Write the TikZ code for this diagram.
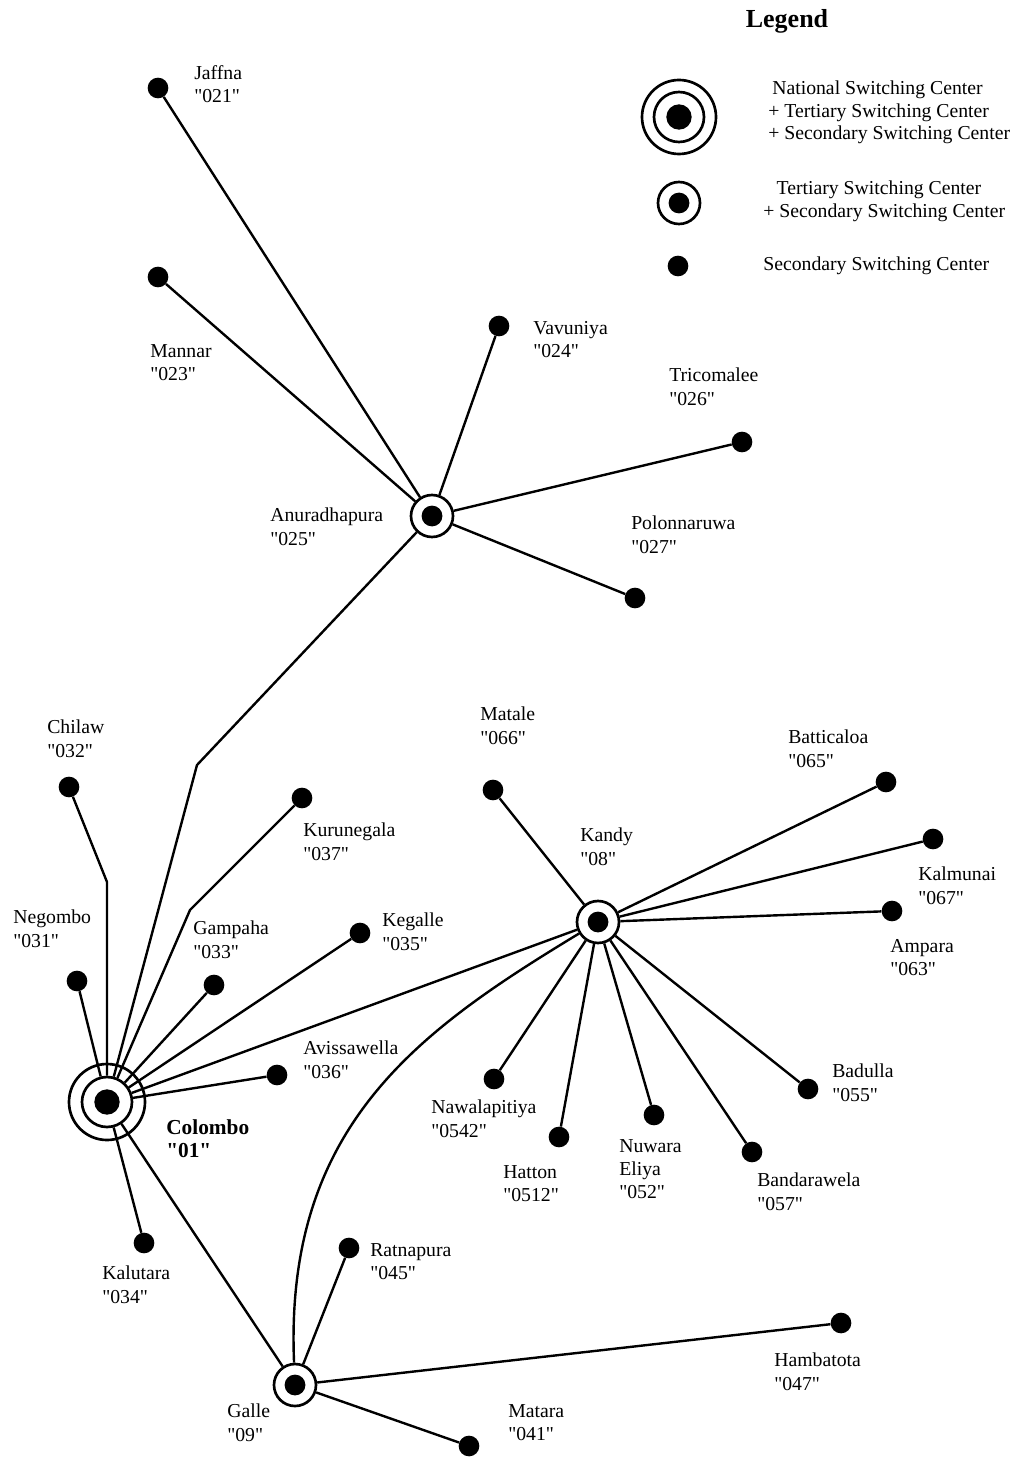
\documentclass[tikz,border=0pt]{standalone}
\usepackage{fontspec}
\setmainfont{Liberation Serif}[Ligatures=TeXOff]
\begin{document}
\begin{tikzpicture}[x=0.75pt, y=-0.75pt,
  link/.style={line width=1.8pt},
  sec/.style={circle, fill=black, minimum size=15.5pt, inner sep=0pt},
  ter/.style={circle, draw, line width=2pt, fill=white, minimum size=31.5pt, inner sep=0pt,
    path picture={\fill[black] (path picture bounding box.center) circle (7.8pt);}},
  nat/.style={circle, draw, line width=2pt, fill=white, minimum size=37.5pt, inner sep=0pt,
    path picture={\fill[black] (path picture bounding box.center) circle (9.5pt);}},
  ring/.style={line width=2pt},
  lbl/.style={anchor=north west, inner sep=0pt, align=left,
    font=\fontsize{14.8}{17.5}\selectfont},
  leg/.style={anchor=north west, inner sep=0pt, align=left,
    font=\fontsize{14.8}{16.8}\selectfont},
]
\useasboundingbox[fill=white] (0,0) rectangle (1017,1458);

% ---------- legend ----------
\node[font=\fontsize{19.5}{22}\selectfont\bfseries] (legtitle) at (787,21) {Legend};
\node[nat] (legnat) at (679,117) {};
\draw[ring] (legnat.center) circle (27.75pt);
\node[ter] (legter) at (679,203) {};
\node[sec] (legsec) at (678,266) {};
\node[leg] (legnattxt) at (768,81) {\hspace*{3pt}National Switching Center\\+ Tertiary Switching Center\\+ Secondary Switching Center};
\node[leg] (legtertxt) at (763,181) {\hspace*{10pt}Tertiary Switching Center\\+ Secondary Switching Center};
\node[leg] (legsectxt) at (763,257) {Secondary Switching Center};

% ---------- switching centers ----------
\node[nat] (colombo) at (107,1102) {};
\draw[ring] (colombo.center) circle (28.5pt);
\node[ter] (anuradhapura) at (432,516) {};
\node[ter] (kandy) at (598,922) {};
\node[ter] (galle) at (295,1385) {};

\node[sec] (jaffna) at (158,88) {};
\node[sec] (mannar) at (158,277) {};
\node[sec] (vavuniya) at (499,326) {};
\node[sec] (tricomalee) at (742,442) {};
\node[sec] (polonnaruwa) at (635,598) {};

\node[sec] (chilaw) at (69,787) {};
\node[sec] (negombo) at (77,981) {};
\node[sec] (kurunegala) at (302,798) {};
\node[sec] (gampaha) at (214,985) {};
\node[sec] (kegalle) at (360,933) {};
\node[sec] (avissawella) at (277,1075) {};
\node[sec] (kalutara) at (144,1243) {};

\node[sec] (matale) at (493,790) {};
\node[sec] (batticaloa) at (886,782) {};
\node[sec] (kalmunai) at (933,839) {};
\node[sec] (ampara) at (892,911) {};
\node[sec] (badulla) at (808,1089) {};
\node[sec] (bandarawela) at (752,1152) {};
\node[sec] (nuwaraeliya) at (654,1115) {};
\node[sec] (hatton) at (559,1137) {};
\node[sec] (nawalapitiya) at (494,1079) {};

\node[sec] (ratnapura) at (349,1248) {};
\node[sec] (hambatota) at (841,1323) {};
\node[sec] (matara) at (469,1446) {};

% ---------- names and codes ----------
\node[lbl] (tjaffna) at (194,65) {Jaffna\\"021"};
\node[lbl] (tmannar) at (150,344) {Mannar\\"023"};
\node[lbl] (tvavuniya) at (533,321) {Vavuniya\\"024"};
\node[lbl] (ttricomalee) at (669,368) {Tricomalee\\"026"};
\node[lbl] (tanuradhapura) at (270,508) {Anuradhapura\\"025"};
\node[lbl] (tpolonnaruwa) at (631,516) {Polonnaruwa\\"027"};
\node[lbl] (tchilaw) at (47,720) {Chilaw\\"032"};
\node[lbl] (tnegombo) at (13,910) {Negombo\\"031"};
\node[lbl] (tkurunegala) at (303,823) {Kurunegala\\"037"};
\node[lbl] (tgampaha) at (193,921) {Gampaha\\"033"};
\node[lbl] (tkegalle) at (382,913) {Kegalle\\"035"};
\node[lbl] (tavissawella) at (303,1041) {Avissawella\\"036"};
\node[lbl, font=\fontsize{16}{17.5}\selectfont\bfseries] (tcolombo) at (166,1119) {Colombo\\"01"};
\node[lbl] (tkalutara) at (102,1266) {Kalutara\\"034"};
\node[lbl] (tmatale) at (480,707) {Matale\\"066"};
\node[lbl] (tkandy) at (580,828) {Kandy\\"08"};
\node[lbl] (tbatticaloa) at (788,730) {Batticaloa\\"065"};
\node[lbl] (tkalmunai) at (918,867) {Kalmunai\\"067"};
\node[lbl] (tampara) at (890,939) {Ampara\\"063"};
\node[lbl] (tbadulla) at (832,1064) {Badulla\\"055"};
\node[lbl] (tbandarawela) at (757,1173) {Bandarawela\\"057"};
\node[lbl] (tnuwaraeliya) at (619,1139) {Nuwara\\Eliya\\"052"};
\node[lbl] (thatton) at (503,1165) {Hatton\\"0512"};
\node[lbl] (tnawalapitiya) at (431,1100) {Nawalapitiya\\"0542"};
\node[lbl] (tratnapura) at (370,1243) {Ratnapura\\"045"};
\node[lbl] (thambatota) at (774,1353) {Hambatota\\"047"};
\node[lbl] (tgalle) at (227,1404) {Galle\\"09"};
\node[lbl] (tmatara) at (508,1404) {Matara\\"041"};

% ---------- links ----------
\coordinate (bendanu) at (197,765);
\coordinate (bendchi) at (107,882);
\coordinate (bendkur) at (190,910);

\draw[link] (anuradhapura) -- (jaffna);
\draw[link] (anuradhapura) -- (mannar);
\draw[link] (anuradhapura) -- (vavuniya);
\draw[link] (anuradhapura) -- (tricomalee);
\draw[link] (anuradhapura) -- (polonnaruwa);
\draw[link] (anuradhapura) -- (bendanu) -- (colombo);

\draw[link] (chilaw) -- (bendchi) -- (colombo);
\draw[link] (kurunegala) -- (bendkur) -- (colombo);
\draw[link] (colombo) -- (negombo);
\draw[link] (colombo) -- (gampaha);
\draw[link] (colombo) -- (kegalle);
\draw[link] (colombo) -- (kandy);
\draw[link] (colombo) -- (avissawella);
\draw[link] (colombo) -- (kalutara);
\draw[link] (colombo) -- (galle);

\draw[link] (kandy) -- (matale);
\draw[link] (kandy) -- (batticaloa);
\draw[link] (kandy) -- (kalmunai);
\draw[link] (kandy) -- (ampara);
\draw[link] (kandy) -- (badulla);
\draw[link] (kandy) -- (bandarawela);
\draw[link] (kandy) -- (nuwaraeliya);
\draw[link] (kandy) -- (hatton);
\draw[link] (kandy) -- (nawalapitiya);
\draw[link] (kandy) .. controls (420,1030) and (284,1125) .. (galle);

\draw[link] (galle) -- (ratnapura);
\draw[link] (galle) -- (hambatota);
\draw[link] (galle) -- (matara);
\end{tikzpicture}
\end{document}
